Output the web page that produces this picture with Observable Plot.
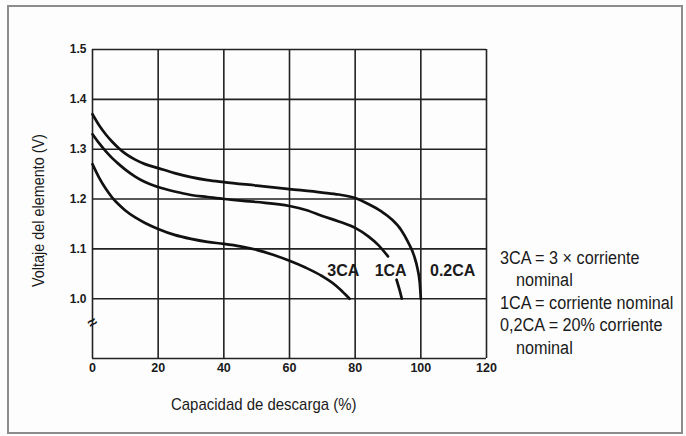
<!DOCTYPE html>
<html>
<head>
<meta charset="utf-8">
<script src="https://cdn.jsdelivr.net/npm/d3@7"></script>
<script src="https://cdn.jsdelivr.net/npm/@observablehq/plot@0.6"></script>
<style>
  html, body { margin: 0; padding: 0; background: #fff; }
  #wrap { position: relative; width: 686px; height: 436px; overflow: hidden; background: #fdfdfd; font-family: "Liberation Sans", Arial, sans-serif; color: #1a1a1a; }
  #frame { position: absolute; left: 7px; top: 5px; width: 672px; height: 425px; border: 2px solid #8c8c8c; }
  .t { position: absolute; white-space: nowrap; transform-origin: 0 0; }
  #chart { position: absolute; left: 0; top: 0; }
</style>
</head>
<body>
<div id="wrap">
  <div id="frame"></div>
  <div id="chart"></div>
</div>
<script>
// ---- data ----
const xTicks = [0, 20, 40, 60, 80, 100, 120];
const yTicks = [1.0, 1.1, 1.2, 1.3, 1.4, 1.5];

const cap02X = [0, 2, 4, 6, 8, 10, 13, 16, 20, 25, 30, 35, 40, 50, 60, 70, 75, 80, 84, 88, 91, 94, 96, 98, 99, 99.7, 100];
const cap02V = [1.37, 1.348, 1.330, 1.315, 1.302, 1.291, 1.279, 1.270, 1.262, 1.252, 1.244, 1.238, 1.234, 1.227, 1.220, 1.213, 1.209, 1.202, 1.19, 1.175, 1.16, 1.138, 1.115, 1.085, 1.06, 1.03, 1.0];

const cap1aX = [0, 2, 4, 6, 8, 10, 13, 16, 20, 25, 30, 35, 40, 50, 60, 65, 70, 75, 80, 84, 87, 90];
const cap1aV = [1.33, 1.312, 1.296, 1.282, 1.270, 1.259, 1.245, 1.234, 1.224, 1.215, 1.208, 1.204, 1.200, 1.194, 1.186, 1.178, 1.166, 1.155, 1.142, 1.125, 1.108, 1.085];
const cap1bX = [92.6, 93.5, 94.2];
const cap1bV = [1.038, 1.018, 1.0];

const cap3X = [0, 2, 4, 6, 8, 10, 13, 16, 20, 25, 30, 35, 40, 45, 50, 55, 60, 65, 70, 74, 76, 78.3];
const cap3V = [1.27, 1.243, 1.221, 1.203, 1.189, 1.177, 1.163, 1.152, 1.14, 1.128, 1.12, 1.114, 1.11, 1.105, 1.098, 1.088, 1.076, 1.062, 1.045, 1.027, 1.015, 1.0];

const curveLabels = ["3CA", "1CA", "0.2CA"];
const curveLabelX = [76.4, 90.8, 109.7];
const curveLabelY = [1.056, 1.056, 1.056];

const breakY = [0.952];

const xTitle = "Capacidad de descarga (%)";
const yTitle = "Voltaje del elemento (V)";
const legendLines = ["3CA = 3 \u00d7  corriente", "nominal", "1CA = corriente nominal", "0,2CA = 20% corriente", "nominal"];
const legendIndent = [false, true, false, false, true];

// ---- build table ----
const rows = [];
cap02X.forEach((x, i) => rows.push({x, v: cap02V[i], s: "0.2CA"}));
cap1aX.forEach((x, i) => rows.push({x, v: cap1aV[i], s: "1CA-a"}));
cap1bX.forEach((x, i) => rows.push({x, v: cap1bV[i], s: "1CA-b"}));
cap3X.forEach((x, i) => rows.push({x, v: cap3V[i], s: "3CA"}));
const labels = curveLabels.map((t, i) => ({t, x: curveLabelX[i], v: curveLabelY[i]}));

const gridC = "#222";
const chart = Plot.plot({
  width: 686, height: 436,
  marginLeft: 92, marginRight: 200, marginTop: 49, marginBottom: 78,
  x: {domain: [0, 120]},
  y: {domain: [0.88, 1.5]},
  style: {fontFamily: "'Liberation Sans', Arial, sans-serif", background: "transparent", color: "#1a1a1a", overflow: "visible"},
  marks: [
    Plot.ruleY(yTicks, {x1: 0, x2: 120, stroke: gridC, strokeWidth: 1.6}),
    Plot.ruleY([0.88], {x1: 0, x2: 120, stroke: gridC, strokeWidth: 1.6}),
    Plot.ruleX(xTicks, {y1: 0.88, y2: 1.5, stroke: gridC, strokeWidth: 1.6}),
    Plot.axisX({ticks: xTicks, tickSize: 0, tickPadding: 5, fontSize: 12.5, fontWeight: "bold", label: null}),
    Plot.axisY({ticks: yTicks, tickSize: 0, tickPadding: 6, fontSize: 12, fontWeight: "bold", tickFormat: d => d.toFixed(1), label: null}),
    Plot.line(rows, {x: "x", y: "v", z: "s", curve: "monotone-x", stroke: "#111", strokeWidth: 2.7}),
    Plot.text(labels, {x: "x", y: "v", text: "t", fontSize: 16, fontWeight: "bold", fill: "#1a1a1a"}),
    Plot.text(breakY, {x: 0, y: d => d, text: () => "\u2248", fontSize: 16, fontWeight: "bold", rotate: -35, fill: "#1a1a1a"})
  ]
});
document.getElementById("chart").appendChild(chart);

// ---- titles and legend (HTML text) ----
const wrap = document.getElementById("wrap");
function addText(txt, left, top, size, extra) {
  const d = document.createElement("div");
  d.className = "t";
  d.textContent = txt;
  d.style.left = left + "px";
  d.style.top = top + "px";
  d.style.fontSize = size + "px";
  d.style.lineHeight = "1";
  d.style.transform = extra || "scaleX(0.88)";
  wrap.appendChild(d);
  return d;
}
addText(xTitle, 171, 396, 17);
addText(yTitle, 31, 287, 16, "rotate(-90deg) scaleX(0.9)");
const legTops = [249, 271, 294, 316, 339];
legendLines.forEach((t, i) => addText(t, legendIndent[i] ? 516 : 500, legTops[i], 18, "scaleX(0.9)"));
</script>
</body>
</html>
